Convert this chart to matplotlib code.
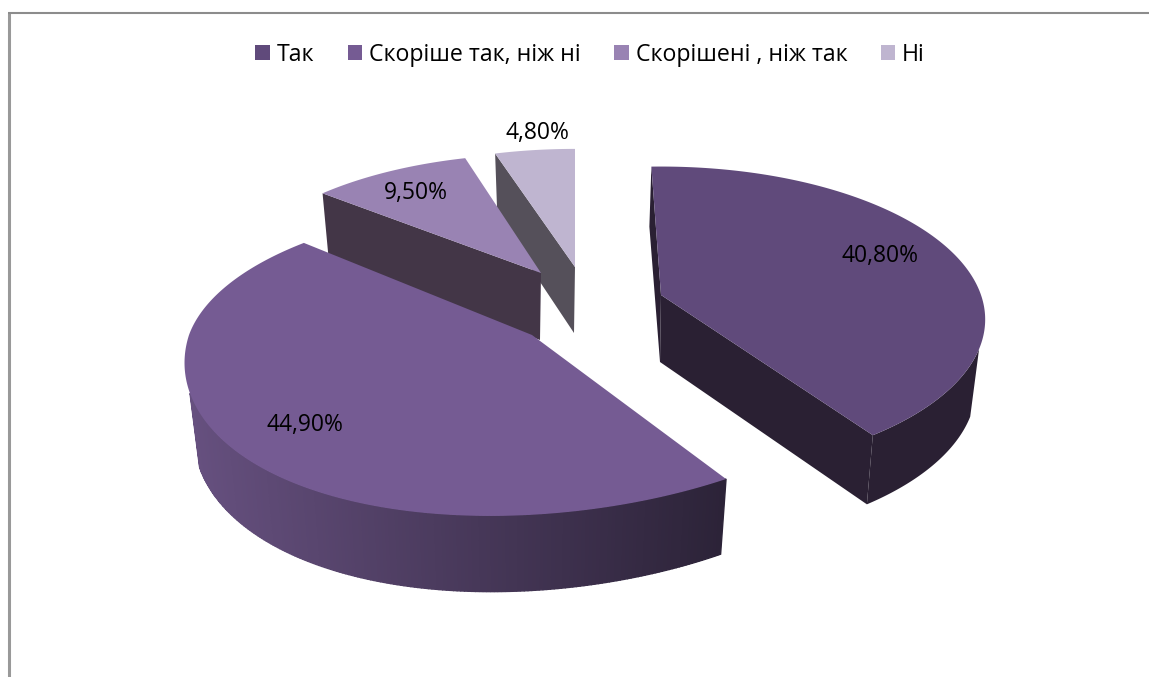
import numpy as np
import matplotlib
matplotlib.use("Agg")
import matplotlib.pyplot as plt
from matplotlib.patches import Polygon, Patch
from matplotlib.colors import to_rgb

plt.rcParams["font.family"] = ["Open Sans", "DejaVu Sans"]

# =========================
# DATA
# =========================
labels = ["Так", "Скоріше так, ніж ні", "Скорішені , ніж так", "Ні"]
values = [40.8, 44.9, 9.5, 4.8]
value_text = ["40,80%", "44,90%", "9,50%", "4,80%"]

# =========================
# STYLE / LAYOUT (pixels)
# =========================
top_colors = ["#604a7b", "#755b93", "#9983b3", "#bfb5d0"]
wall_colors = ["#2a2033", "#45364f", "#433647", "#55505a"]
centers = [(661, 295), (532, 335), (541, 273), (575, 267)]
radii = [(320, 149), (343, 151), (312, 138), (310, 137)]
rotate = [0.0, 6.0, 3.0, 2.0]    # extra turn of each exploded slice
skew = [0.0, 0.055, 0.0, 0.0]    # front rim of the big slice sags to the left
depth = [67, 73, 67, 66]
label_pos = [(880, 256), (305, 425), (416, 193), (537, 133)]
start_angle = -2.0
persp = 0.16
shrink_x = 0.972
shrink_y = 1.015
W, H = 1149, 677


def rim(i, ang, bottom=False):
    # ang in degrees clockwise from top of the pie
    a = np.radians(ang)
    x, y = np.sin(a), -np.cos(a)
    s = 1 / (1 - persp * y)
    cx, cy = centers[i]
    rx, ry = radii[i]
    dx = rx * x * s
    dy = ry * y * s - skew[i] * dx * np.clip(y, 0, 1)
    if bottom:
        return np.column_stack([cx + dx * shrink_x, cy + depth[i] + dy * shrink_y])
    return np.column_stack([cx + dx, cy + dy])


def shade(c1, c2, t):
    c1, c2 = np.array(to_rgb(c1)), np.array(to_rgb(c2))
    return tuple(c1 + (c2 - c1) * t)


fig = plt.figure(figsize=(W / 100, H / 100), dpi=100)
ax = fig.add_axes([0, 0, 1, 1])
ax.set_xlim(0, W)
ax.set_ylim(H, 0)
ax.axis("off")

# chart frame: no right or bottom edge in this crop
ax.plot([8.5, 8.5], [H, 13], color="#999999", lw=2.2, solid_capstyle="butt")
ax.plot([7.5, W], [13, 13], color="#8c8c8c", lw=1.5, solid_capstyle="butt")

spans = []
cur = start_angle
for v, r in zip(values, rotate):
    spans.append((cur + r, cur + r + v * 3.6))
    cur += v * 3.6

# back to front: small slices first
for i in [3, 2, 0, 1]:
    a0, a1 = spans[i]
    angs = np.linspace(a0, a1, 300)
    apex_t = np.array(centers[i], dtype=float)
    apex_b = apex_t + [-1, depth[i]]
    tp, bp = rim(i, angs), rim(i, angs, bottom=True)

    if i == 0:
        # cut face on the right, thin sliver on the left
        ax.add_patch(Polygon([apex_t, tp[-1], bp[-1], apex_b], color=wall_colors[i], lw=0))
        ax.add_patch(Polygon([apex_t, tp[0], tp[0] + [-2, 60], apex_b], color=wall_colors[i], lw=0))
        vis = angs >= 110
        ax.add_patch(Polygon(np.vstack([tp[vis], bp[vis][::-1]]), color=wall_colors[i], lw=0))
    if i in (2, 3):
        ax.add_patch(Polygon([apex_t, tp[0], bp[0], apex_b], color=wall_colors[i], lw=0))
    if i == 1:
        # outer wall, shaded left to right
        for k in np.where(angs <= 251)[0][:-1]:
            t = np.clip((bp[k, 0] - 198) / (720 - 198), 0, 1)
            col = shade("#66507f", "#2c2338", t)
            ax.add_patch(Polygon([tp[k], tp[k + 1], bp[k + 1], bp[k]], facecolor=col, edgecolor=col, lw=1.0))

    ax.add_patch(Polygon(np.vstack([apex_t, tp]), color=top_colors[i], lw=0))

for (x, y), s in zip(label_pos, value_text):
    ax.text(x, y, s, fontsize=16.5, color="black", ha="center", va="center")

handles = [Patch(facecolor=c, label=l) for c, l in zip(top_colors, labels)]
ax.legend(handles=handles, ncols=4, loc="center", bbox_to_anchor=(590 / W, 1 - 55 / H),
          frameon=False, fontsize=16.7, handlelength=0.62, handleheight=0.62, handletextpad=0.3,
          columnspacing=1.45, borderpad=0)

fig.savefig("out.png", dpi=100)
plt.close(fig)
